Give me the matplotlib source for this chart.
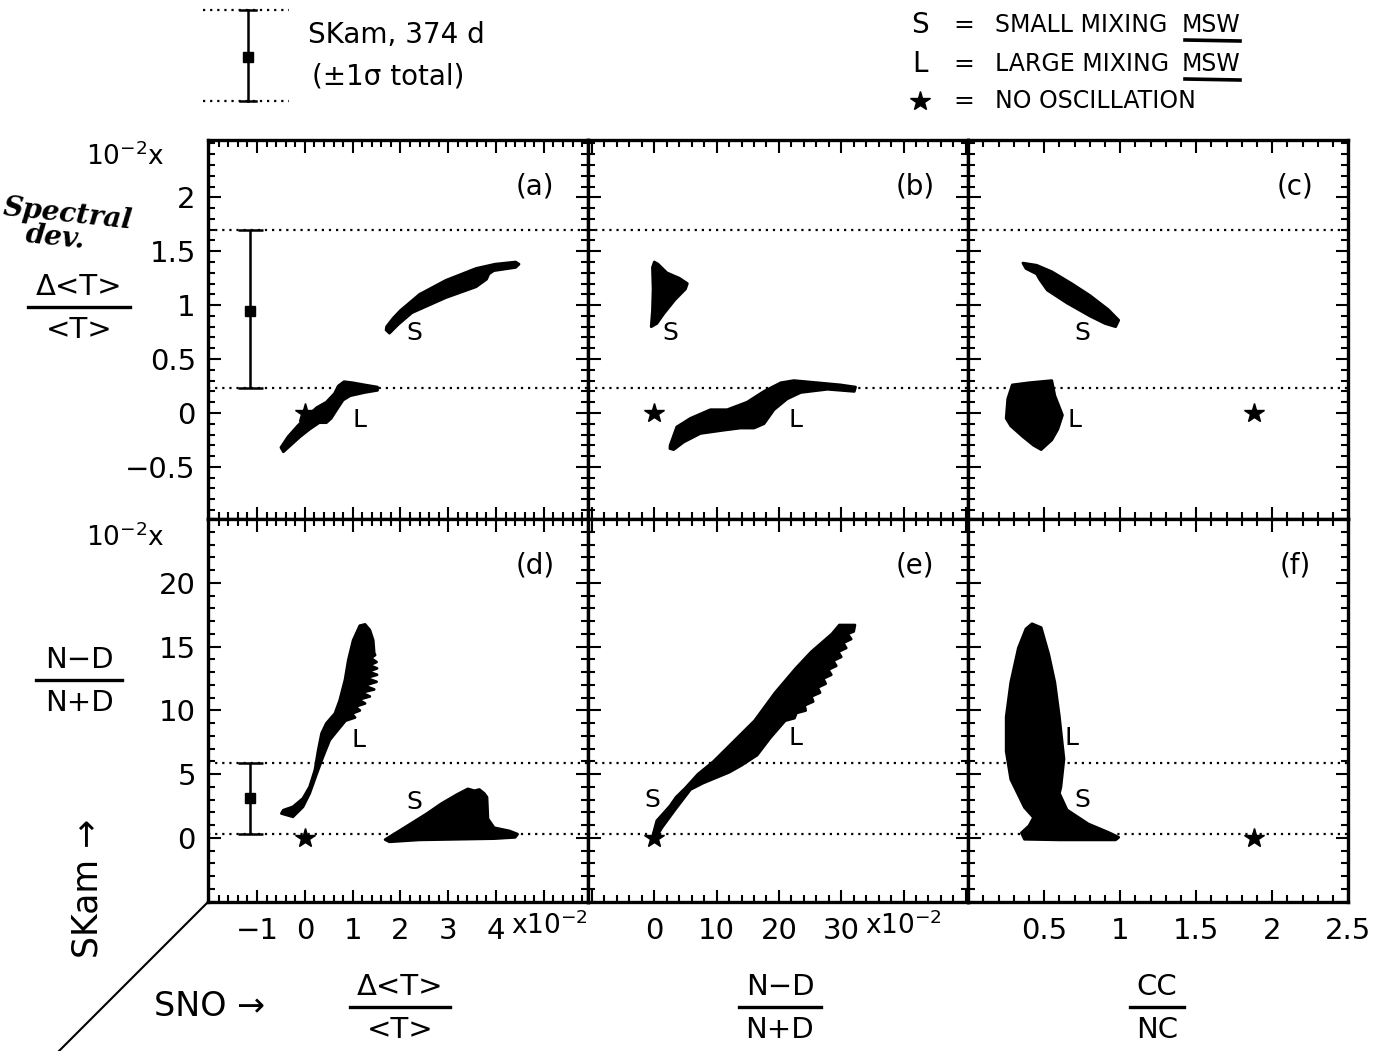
import matplotlib
matplotlib.use('Agg')
import matplotlib.pyplot as plt
from matplotlib.ticker import MultipleLocator, FixedLocator, FixedFormatter

W, H = 1383, 1051

# axis ranges as printed (x 10^-2 where the plot says so)
xlim_dt = (-2.02, 5.93)     # SNO  Delta<T>/<T>
xlim_nd = (-10.6, 50.4)     # SNO  (N-D)/(N+D)
xlim_cc = (0.0, 2.5)        # SNO  CC/NC
ylim_dt = (-0.98, 2.53)     # SKam Delta<T>/<T>
ylim_nd = (-5.0, 25.05)     # SKam (N-D)/(N+D)

# SuperKamiokande, 374 d, +-1 sigma total: centre, low, high
skam_x = -1.15
skam_dt = [0.95, 0.23, 1.70]
skam_nd = [3.10, 0.32, 5.88]

# no oscillation prediction
nosc_sno = [0.0, 0.0, 1.88]     # per column
nosc_skam = [0.0, 0.0]          # per row

# allowed regions, outlines
a_S = [(1.71, 0.80), (1.85, 0.88), (2.0, 0.95), (2.4, 1.10), (2.95, 1.23), (3.58, 1.34),
       (3.98, 1.38), (4.41, 1.40), (4.48, 1.38), (4.41, 1.35), (3.95, 1.32), (3.85, 1.29),
       (3.80, 1.24), (3.58, 1.17), (2.95, 1.07), (2.24, 0.93), (1.95, 0.82), (1.77, 0.74),
       (1.70, 0.77)]
a_L = [(-0.50, -0.32), (-0.35, -0.22), (-0.15, -0.12), (0.05, -0.03), (0.25, 0.05),
       (0.45, 0.10), (0.62, 0.18), (0.70, 0.25), (0.82, 0.29), (1.0, 0.28), (1.25, 0.26),
       (1.52, 0.24), (1.52, 0.21), (1.25, 0.19), (0.95, 0.16), (0.80, 0.12), (0.68, 0.04),
       (0.55, -0.05), (0.45, -0.09), (0.30, -0.09), (0.10, -0.15), (-0.10, -0.22),
       (-0.30, -0.30), (-0.45, -0.36)]
b_S = [(0.0, 1.40), (0.6, 1.38), (2.0, 1.30), (4.0, 1.25), (5.3, 1.20), (5.0, 1.15),
       (3.3, 1.05), (1.5, 0.92), (0.4, 0.83), (-0.5, 0.80), (-0.3, 0.95), (-0.2, 1.15),
       (-0.3, 1.35)]
b_L = [(2.54, -0.30), (3.6, -0.13), (5.8, -0.05), (9.0, 0.03), (11.7, 0.03), (14.9, 0.10),
       (17.6, 0.20), (20.3, 0.28), (22.4, 0.30), (26.2, 0.28), (29.9, 0.26), (32.3, 0.24),
       (32.1, 0.20), (27.8, 0.22), (23.5, 0.19), (21.3, 0.13), (19.2, 0.03), (17.6, -0.10),
       (16.0, -0.14), (13.8, -0.14), (11.1, -0.16), (7.4, -0.19), (4.7, -0.27),
       (3.1, -0.34), (2.5, -0.33)]
c_S = [(0.36, 1.39), (0.45, 1.37), (0.55, 1.31), (0.68, 1.20), (0.80, 1.09), (0.92, 0.96),
       (0.99, 0.86), (0.97, 0.80), (0.90, 0.83), (0.80, 0.90), (0.65, 1.02), (0.52, 1.14),
       (0.47, 1.24), (0.45, 1.29), (0.38, 1.34)]
c_L = [(0.29, 0.26), (0.40, 0.28), (0.55, 0.30), (0.57, 0.16), (0.62, -0.02), (0.59, -0.15),
       (0.55, -0.25), (0.48, -0.34), (0.43, -0.30), (0.36, -0.22), (0.28, -0.12),
       (0.25, -0.05), (0.26, 0.13)]
d_L = [(-0.49, 1.92), (-0.25, 1.66), (-0.04, 2.44), (0.10, 3.49), (0.25, 5.06), (0.38, 6.37),
       (0.52, 7.68), (0.66, 8.33), (0.85, 9.2), (1.05, 9.45), (0.98, 9.75), (1.15, 10.0),
       (1.05, 10.3), (1.26, 10.55), (1.12, 10.85), (1.36, 11.1), (1.18, 11.4), (1.45, 11.65),
       (1.24, 11.95), (1.50, 12.25), (1.28, 12.55), (1.51, 12.8), (1.32, 13.05), (1.51, 13.3),
       (1.35, 13.55), (1.50, 13.8), (1.38, 14.1), (1.47, 14.35), (1.45, 14.5), (1.43, 15.5),
       (1.36, 16.3), (1.26, 16.75), (1.15, 16.65), (1.01, 15.5), (0.91, 13.96), (0.84, 12.4),
       (0.73, 10.8), (0.63, 9.77), (0.45, 8.99), (0.35, 8.2), (0.28, 6.89), (0.21, 5.32),
       (0.10, 4.01), (-0.04, 3.1), (-0.25, 2.44), (-0.45, 2.18)]
d_S = [(1.68, -0.13), (2.08, 0.8), (2.55, 1.9), (2.86, 2.7), (3.18, 3.4), (3.41, 3.85),
       (3.55, 3.7), (3.65, 3.8), (3.75, 3.5), (3.81, 3.2), (3.83, 1.5), (3.96, 0.8),
       (4.28, 0.55), (4.45, 0.30), (4.40, 0.05), (3.96, -0.05), (2.39, -0.15), (1.77, -0.30)]
e_LS = [(-0.4, -0.1), (0.4, 1.35), (2.5, 2.5), (3.5, 3.2), (4.96, 3.9), (7.0, 5.0),
        (9.5, 6.0), (12.8, 7.6), (16.1, 9.2), (19.4, 11.4), (22.7, 13.3), (25.2, 14.6),
        (28.5, 16.0), (29.7, 16.7), (32.2, 16.7), (32.0, 16.2), (31.0, 16.0), (31.6, 15.6),
        (30.3, 15.3), (30.8, 14.9), (29.5, 14.6), (30.0, 14.2), (28.7, 13.9), (29.2, 13.5),
        (27.9, 13.2), (28.4, 12.8), (27.1, 12.5), (27.5, 12.1), (26.2, 11.8), (26.6, 11.4),
        (25.2, 11.1), (25.5, 10.7), (24.1, 10.4), (24.3, 10.0), (22.8, 9.8), (22.5, 9.4),
        (21.0, 9.2), (18.6, 7.85), (16.5, 6.5), (14.0, 5.7), (12.0, 5.15), (7.8, 4.3),
        (5.8, 3.8), (3.3, 2.2), (1.2, 0.8), (0.0, -0.2)]
f_LS = [(0.42, 16.8), (0.48, 16.5), (0.53, 14.4), (0.57, 12.2), (0.60, 9.5), (0.63, 6.2),
        (0.61, 4.0), (0.60, 3.5), (0.65, 2.2), (0.79, 1.1), (0.92, 0.45), (0.99, 0.05),
        (0.97, -0.15), (0.60, -0.15), (0.37, -0.1), (0.35, 0.4), (0.40, 0.95), (0.43, 1.6),
        (0.37, 2.4), (0.28, 4.6), (0.25, 6.8), (0.25, 9.5), (0.28, 12.2), (0.33, 14.9),
        (0.38, 16.4)]

regions = [[a_S, a_L], [b_S, b_L], [c_S, c_L], [d_L, d_S], [e_LS], [f_LS]]
region_tags = [[('S', 2.28, 0.74), ('L', 1.14, -0.07)],
               [('S', 2.5, 0.74), ('L', 22.6, -0.07)],
               [('S', 0.75, 0.74), ('L', 0.70, -0.07)],
               [('S', 2.28, 2.84), ('L', 1.13, 7.7)],
               [('S', -0.4, 2.97), ('L', 22.7, 7.85)],
               [('S', 0.75, 2.97), ('L', 0.68, 7.85)]]
panel_names = ['(a)', '(b)', '(c)', '(d)', '(e)', '(f)']

x_major = [[-1, 0, 1, 2, 3, 4, 5], [-10, 0, 10, 20, 30, 40, 50], [0.5, 1, 1.5, 2, 2.5]]
x_labels = [['\u22121', '0', '1', '2', '3', '4', ''], ['', '0', '10', '20', '30', '', ''],
            ['0.5', '1', '1.5', '2', '2.5']]
x_minor = [0.2, 2, 0.1]
y_major = [[-0.5, 0, 0.5, 1, 1.5, 2], [0, 5, 10, 15, 20]]
y_labels = [['\u22120.5', '0', '0.5', '1', '1.5', '2'], ['0', '5', '10', '15', '20']]
y_minor = [0.1, 1]

plt.rcParams['font.family'] = 'DejaVu Sans'
dots = (0, (1, 2.2))

fig = plt.figure(figsize=(W / 100, H / 100), dpi=100)
fig.patch.set_facecolor('white')

col_left = [208.3, 588.3, 968.2]
col_w = 380.0
row_top = [140.2, 518.6]
row_h = [378.4, 383.1]

xlims = [xlim_dt, xlim_nd, xlim_cc]
ylims = [ylim_dt, ylim_nd]
skam = [skam_dt, skam_nd]

for r in range(2):
    for c in range(3):
        i = r * 3 + c
        ax = fig.add_axes([col_left[c] / W, 1 - (row_top[r] + row_h[r]) / H,
                           col_w / W, row_h[r] / H])
        ax.set_xlim(*xlims[c])
        ax.set_ylim(*ylims[r])
        for sp in ax.spines.values():
            sp.set_linewidth(2.4)

        for poly in regions[i]:
            ax.fill([p[0] for p in poly], [p[1] for p in poly], color='black', lw=2.0,
                    ec='black', joinstyle='round', zorder=3)
        for tag, tx, ty in region_tags[i]:
            ax.text(tx, ty, tag, fontsize=18, ha='center', va='center', zorder=4)

        # SKam band
        for yv in skam[r][1:]:
            ax.axhline(yv, color='black', lw=1.6, ls=dots, zorder=2)
        if c == 0:
            cen, lo, hi = skam[r]
            ax.errorbar([skam_x], [cen], yerr=[[cen - lo], [hi - cen]], fmt='s',
                        color='black', ms=7, capsize=9, elinewidth=1.8, capthick=1.8,
                        zorder=4)
        ax.plot([nosc_sno[c]], [nosc_skam[r]], marker='*', ms=15, color='black',
                ls='none', zorder=5)

        ax.text(0.86, 0.877, panel_names[i], transform=ax.transAxes, fontsize=20,
                ha='center', va='center')

        ax.xaxis.set_major_locator(FixedLocator(x_major[c]))
        ax.xaxis.set_minor_locator(MultipleLocator(x_minor[c]))
        ax.yaxis.set_major_locator(FixedLocator(y_major[r]))
        ax.yaxis.set_minor_locator(MultipleLocator(y_minor[r]))
        ax.tick_params(which='both', direction='in', top=True, right=True, width=1.5)
        ax.tick_params(which='major', length=9)
        ax.tick_params(which='minor', length=5)
        ax.tick_params(axis='x', labelsize=21, pad=11)
        ax.tick_params(axis='y', labelsize=21, pad=9)
        if r == 1:
            ax.xaxis.set_major_formatter(FixedFormatter(x_labels[c]))
        else:
            ax.set_xticklabels([])
        if c == 0:
            ax.yaxis.set_major_formatter(FixedFormatter(y_labels[r]))
        else:
            ax.set_yticklabels([])

# overlay in pixel units for the annotations around the grid
ov = fig.add_axes([0, 0, 1, 1])
ov.set_xlim(0, W)
ov.set_ylim(H, 0)
ov.axis('off')
ov.patch.set_alpha(0)


def fraction(x, y, top, bottom, half, size=21):
    ov.text(x, y - 20, top, ha='center', va='center', fontsize=size)
    ov.plot([x - half, x + half], [y, y], color='black', lw=2.4)
    ov.text(x, y + 23, bottom, ha='center', va='center', fontsize=size)


fraction(79, 307, '\u0394<T>', '<T>', 51)
fraction(79, 680, 'N\u2212D', 'N+D', 43)
fraction(400, 1007, '\u0394<T>', '<T>', 50)
fraction(780, 1007, 'N\u2212D', 'N+D', 41)
fraction(1157, 1007, 'CC', 'NC', 27)

ov.text(125, 157, r'10$^{-2}$x', ha='center', va='center', fontsize=19)
ov.text(125, 538, r'10$^{-2}$x', ha='center', va='center', fontsize=19)
ov.text(549, 926, r'x10$^{-2}$', ha='center', va='center', fontsize=19)
ov.text(903, 926, r'x10$^{-2}$', ha='center', va='center', fontsize=19)

ov.text(68, 214, 'Spectral', ha='center', va='center', fontsize=20,
        family='DejaVu Serif', style='italic', weight='bold', rotation=-6)
ov.text(55, 238, 'dev.', ha='center', va='center', fontsize=20,
        family='DejaVu Serif', style='italic', weight='bold', rotation=-6)

ov.text(88, 888, 'SKam \u2192', rotation=90, ha='center', va='center', fontsize=25)
ov.plot([208.3, 59], [901.7, 1051], color='black', lw=1.5)
ov.text(210, 1007, 'SNO \u2192', ha='center', va='center', fontsize=24)

# key, upper left
ov.plot([203, 289], [10, 10], color='black', lw=1.6, ls=dots)
ov.plot([203, 289], [101, 101], color='black', lw=1.6, ls=dots)
ov.plot([248, 248], [10, 101], color='black', lw=1.8)
ov.plot([240, 256], [10, 10], color='black', lw=1.8)
ov.plot([240, 256], [101, 101], color='black', lw=1.8)
ov.plot([248], [57], marker='s', ms=7, color='black')
ov.text(308, 35, 'SKam, 374 d', ha='left', va='center', fontsize=20)
ov.text(312, 76, '(\u00b11\u03c3 total)', ha='left', va='center', fontsize=20)

# key, upper right
key_rows = [('S', 'SMALL MIXING', 'MSW', 25), ('L', 'LARGE MIXING', 'MSW', 64),
            (None, 'NO OSCILLATION', None, 101)]
for sym, txt, tail, yk in key_rows:
    if sym is None:
        ov.plot([920], [yk], marker='*', ms=15, color='black')
    else:
        ov.text(920, yk, sym, ha='center', va='center', fontsize=20)
    ov.text(964, yk, '=', ha='center', va='center', fontsize=18)
    ov.text(995, yk, txt, ha='left', va='center', fontsize=17)
    if tail:
        ov.text(1240, yk, tail, ha='right', va='center', fontsize=17)
        ov.plot([1185, 1240], [yk + 15, yk + 16], color='black', lw=2.6)

fig.savefig('out.png', dpi=100)
